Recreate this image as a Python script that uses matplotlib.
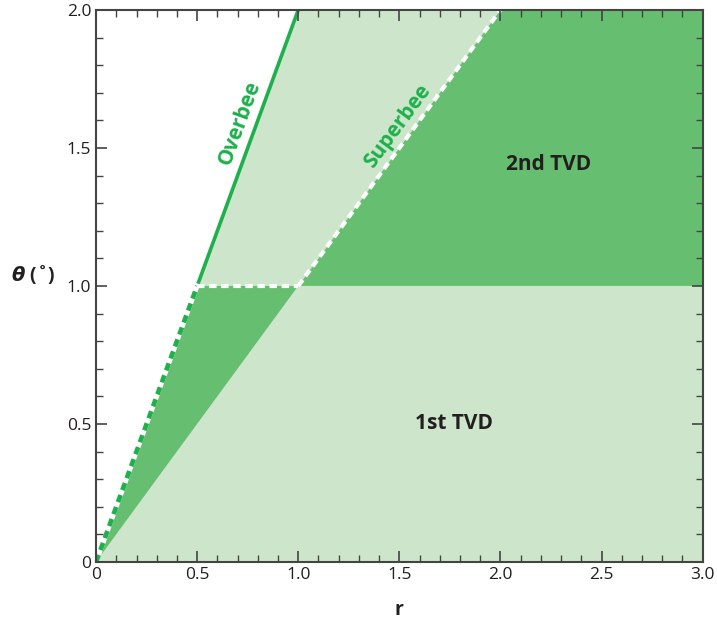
import numpy as np
import matplotlib
matplotlib.use("Agg")
import matplotlib.pyplot as plt
from matplotlib.ticker import MultipleLocator

plt.rcParams['font.family'] = ['Open Sans', 'DejaVu Sans']

# region outlines (r, theta)
first_tvd_r = [0, 1, 3, 3]
first_tvd_t = [0, 1, 1, 0]
upper_light_r = [0.5, 1, 2, 1]
upper_light_t = [1, 2, 2, 1]
second_tvd_r = [1, 2, 3, 3]
second_tvd_t = [1, 2, 2, 1]
tri_r = [0, 0.5, 1]
tri_t = [0, 1, 1]

overbee_r = [0.5, 1]
overbee_t = [1, 2]
lower_r = [0, 0.5]
lower_t = [0, 1]
flat_r = [0.5, 1]
flat_t = [1, 1]
superbee_r = [1, 2]
superbee_t = [1, 2]

light = '#cde6cb'
dark = '#66bf70'
green = '#1db04b'

fig = plt.figure(figsize=(7.17, 6.22), dpi=100)
ax = fig.add_axes([0.134, 0.0965, 0.846, 0.8875])

ax.fill(first_tvd_r, first_tvd_t, color=light, lw=0)
ax.fill(upper_light_r, upper_light_t, color=light, lw=0)
ax.fill(second_tvd_r, second_tvd_t, color=dark, lw=0)
ax.fill(tri_r, tri_t, color=dark, lw=0)

ax.plot(overbee_r, overbee_t, color=green, lw=2.6, solid_capstyle='butt')
ax.plot(lower_r, lower_t, color='white', lw=3.4)
ax.plot(lower_r, lower_t, color=green, lw=3.4, dashes=(1.6, 1.1))
ax.plot(flat_r, flat_t, color='white', lw=3.0, dashes=(1.8, 1.1))
ax.plot(superbee_r, superbee_t, color='white', lw=3.0, dashes=(1.8, 1.1))

ax.text(0.71, 1.59, 'Overbee', color=green, fontsize=15, fontweight='bold',
        rotation=69.9, ha='center', va='center', rotation_mode='anchor')
ax.text(1.49, 1.58, 'Superbee', color=green, fontsize=15, fontweight='bold',
        rotation=53.7, ha='center', va='center', rotation_mode='anchor')
ax.text(2.24, 1.44, '2nd TVD', color='#231f20', fontsize=15, fontweight='bold',
        ha='center', va='center')
ax.text(1.77, 0.50, '1st TVD', color='#231f20', fontsize=15, fontweight='bold',
        ha='center', va='center')

ax.set_xlim(0, 3)
ax.set_ylim(0, 2)
ax.set_xticks([0, 0.5, 1, 1.5, 2, 2.5, 3])
ax.set_yticks([0, 0.5, 1, 1.5, 2])
ax.set_xticklabels(['0', '0.5', '1.0', '1.5', '2.0', '2.5', '3.0'])
ax.set_yticklabels(['0', '0.5', '1.0', '1.5', '2.0'])
ax.xaxis.set_minor_locator(MultipleLocator(0.1))
ax.yaxis.set_minor_locator(MultipleLocator(0.1))
ax.tick_params(which='both', direction='in', top=True, right=True,
               color='#444444', labelsize=12.5, labelcolor='#231f20')
ax.tick_params(which='major', length=8, width=1.2)
ax.tick_params(which='minor', length=5, width=1)
for s in ax.spines.values():
    s.set_color('#444444')
    s.set_linewidth(1.5)
ax.set_axisbelow(False)

ax.set_xlabel('r', fontsize=14, fontweight='bold', color='#231f20', labelpad=12)
ax.set_ylabel(r'$\boldsymbol{\theta}$ (˚)', fontsize=14, fontweight='bold',
              color='#231f20', rotation=0, labelpad=24)

fig.savefig('out.png', dpi=100)
